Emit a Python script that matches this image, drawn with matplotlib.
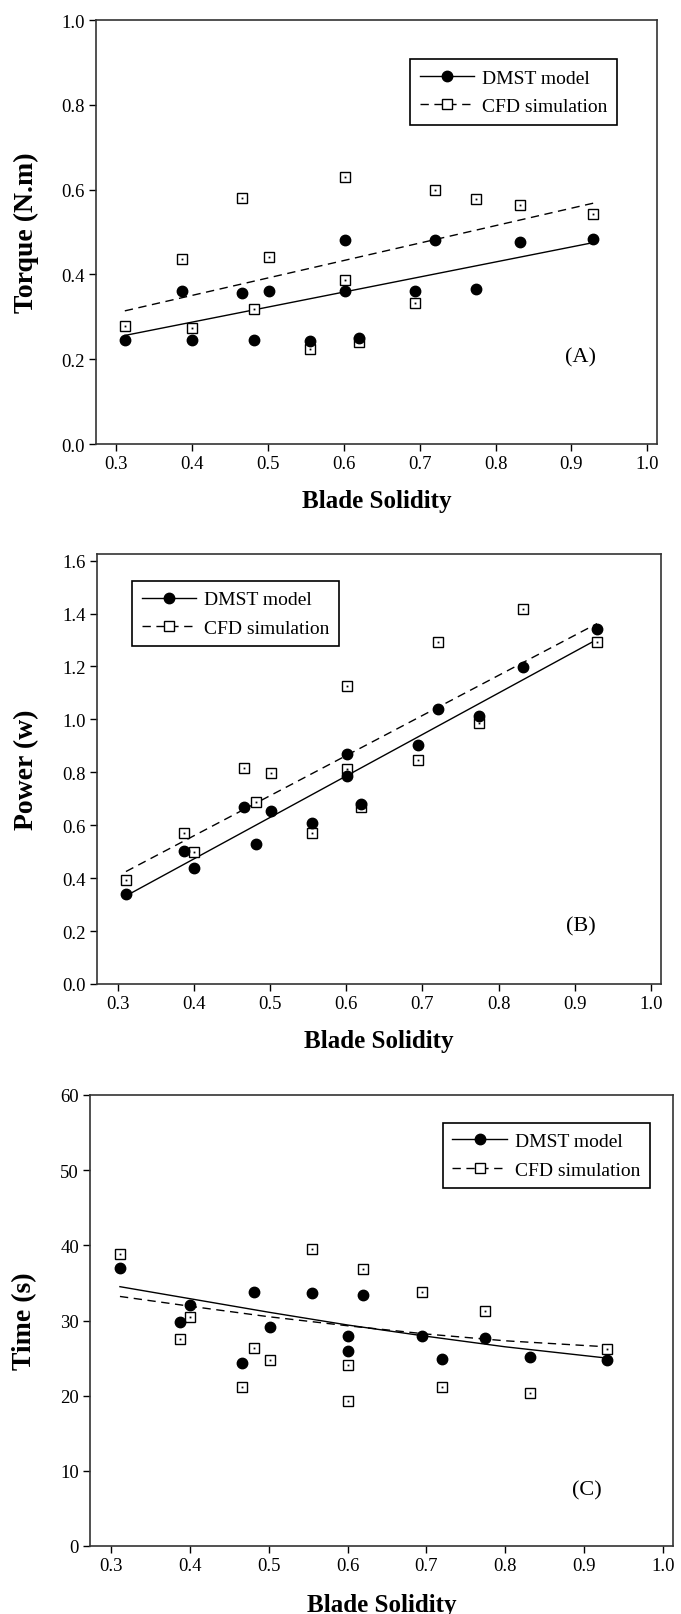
import matplotlib
matplotlib.use("Agg")
import matplotlib.pyplot as plt
from matplotlib.lines import Line2D

plt.rcParams["font.family"] = ["Liberation Serif", "DejaVu Serif"]

# blade solidity of the 15 tested configurations
solidity = [0.311, 0.387, 0.400, 0.466, 0.481, 0.501, 0.555, 0.601,
            0.601, 0.620, 0.694, 0.720, 0.774, 0.832, 0.929]

torque_dmst = [0.246, 0.361, 0.246, 0.357, 0.246, 0.361, 0.243, 0.481,
               0.361, 0.251, 0.361, 0.481, 0.365, 0.477, 0.484]
torque_cfd = [0.278, 0.437, 0.274, 0.581, 0.318, 0.441, 0.224, 0.629,
              0.386, 0.241, 0.332, 0.599, 0.578, 0.563, 0.542]

power_dmst = [0.340, 0.504, 0.440, 0.670, 0.528, 0.652, 0.610, 0.870,
              0.787, 0.682, 0.905, 1.041, 1.011, 1.198, 1.341]
power_cfd = [0.392, 0.570, 0.499, 0.817, 0.686, 0.799, 0.569, 1.128,
             0.813, 0.670, 0.846, 1.293, 0.987, 1.417, 1.293]

time_dmst = [37.0, 29.8, 32.1, 24.3, 33.8, 29.1, 33.6, 27.9,
             26.0, 33.4, 27.9, 24.9, 27.7, 25.1, 24.7]
time_cfd = [38.9, 27.5, 30.4, 21.2, 26.4, 24.7, 39.5, 24.1,
            19.3, 36.8, 33.8, 21.2, 31.2, 20.3, 26.2]

# trend lines
fit_x = [0.311, 0.929]
torque_dmst_fit = [0.256, 0.475]
torque_cfd_fit = [0.314, 0.568]
power_dmst_fit = [0.333, 1.302]
power_cfd_fit = [0.425, 1.362]
time_fit_x = [0.311, 0.4, 0.5, 0.6, 0.7, 0.8, 0.929]
time_dmst_fit = [34.5, 32.9, 31.1, 29.4, 27.9, 26.5, 25.0]
time_cfd_fit = [33.2, 31.9, 30.5, 29.3, 28.2, 27.3, 26.5]

x_ticks = [0.3, 0.4, 0.5, 0.6, 0.7, 0.8, 0.9, 1.0]

W, H = 681, 1615
fig = plt.figure(figsize=(W / 100, H / 100), dpi=100)
fig.patch.set_facecolor("white")


def make_axes(left, right, top, bottom):
    return fig.add_axes([left / W, 1 - bottom / H, (right - left) / W, (bottom - top) / H])


panels = [
    dict(box=(96, 657, 21, 445), fx=fit_x, dmst=torque_dmst, cfd=torque_cfd,
         dfit=torque_dmst_fit, cfit=torque_cfd_fit, ylim=(0, 1.0),
         yticks=[0.0, 0.2, 0.4, 0.6, 0.8, 1.0], yfmt="{:.1f}",
         ylabel="Torque (N.m)", ylab_x=-0.102, tag="(A)", tag_xy=(0.864, 0.205),
         leg_loc="upper right", leg_xy=(0.929, 0.907), xpad=12),
    dict(box=(97, 661, 555, 985), fx=fit_x, dmst=power_dmst, cfd=power_cfd,
         dfit=power_dmst_fit, cfit=power_cfd_fit, ylim=(0, 1.625),
         yticks=[0.0, 0.2, 0.4, 0.6, 0.8, 1.0, 1.2, 1.4, 1.6], yfmt="{:.1f}",
         ylabel="Power (w)", ylab_x=-0.103, tag="(B)", tag_xy=(0.858, 0.135),
         leg_loc="upper left", leg_xy=(0.062, 0.937), xpad=12),
    dict(box=(90, 673, 1096, 1547), fx=time_fit_x, dmst=time_dmst, cfd=time_cfd,
         dfit=time_dmst_fit, cfit=time_cfd_fit, ylim=(0, 60),
         yticks=[0, 10, 20, 30, 40, 50, 60], yfmt="{:.0f}",
         ylabel="Time (s)", ylab_x=-0.091, tag="(C)", tag_xy=(0.852, 0.125),
         leg_loc="upper right", leg_xy=(0.96, 0.938), xpad=13.5),
]

dash = (0, (6, 4))

for p in panels:
    ax = make_axes(*p["box"])
    ax.set_facecolor("white")

    ax.plot(p["fx"], p["dfit"], color="black", lw=1.0, zorder=2)
    ax.plot(p["fx"], p["cfit"], color="black", lw=1.0, linestyle=dash, zorder=2)

    ax.plot(solidity, p["cfd"], linestyle="none", marker="s", ms=7,
            mfc="white", mec="black", mew=1.0, zorder=3)
    ax.plot(solidity, p["cfd"], linestyle="none", marker="s", ms=1.3,
            mfc="black", mec="black", mew=0, zorder=3)
    ax.plot(solidity, p["dmst"], linestyle="none", marker="o", ms=7.5,
            mfc="black", mec="black", zorder=4)

    ax.set_xlim(0.273, 1.013)
    ax.set_ylim(*p["ylim"])
    ax.set_xticks(x_ticks)
    ax.set_xticklabels([f"{t:.1f}" for t in x_ticks])
    ax.set_yticks(p["yticks"])
    ax.set_yticklabels([p["yfmt"].format(t) for t in p["yticks"]])
    ax.tick_params(direction="out", length=5, width=1, labelsize=13.5, pad=3)

    for s in ax.spines.values():
        s.set_linewidth(1.2)
        s.set_color("#333333")

    ax.set_xlabel("Blade Solidity", fontsize=18, fontweight="bold", labelpad=p["xpad"])
    ax.set_ylabel(p["ylabel"], fontsize=20, fontweight="bold")
    ax.yaxis.set_label_coords(p["ylab_x"], 0.5)

    ax.text(*p["tag_xy"], p["tag"], transform=ax.transAxes, fontsize=16,
            ha="center", va="center")

    handles = [
        Line2D([], [], color="black", lw=1.0, marker="o", ms=7.5, mfc="black"),
        Line2D([], [], color="black", lw=1.0, linestyle=dash, marker="s", ms=7,
               mfc="white", mec="black"),
    ]
    leg = ax.legend(handles, ["DMST model", "CFD simulation"], loc=p["leg_loc"],
                    bbox_to_anchor=p["leg_xy"], fontsize=14, frameon=True,
                    fancybox=False, framealpha=1, edgecolor="black",
                    borderpad=0.5, labelspacing=0.55, handlelength=2.8,
                    handletextpad=0.4, borderaxespad=0, numpoints=1)
    leg.get_frame().set_linewidth(1.2)

fig.savefig("out.png", dpi=100, facecolor="white")
